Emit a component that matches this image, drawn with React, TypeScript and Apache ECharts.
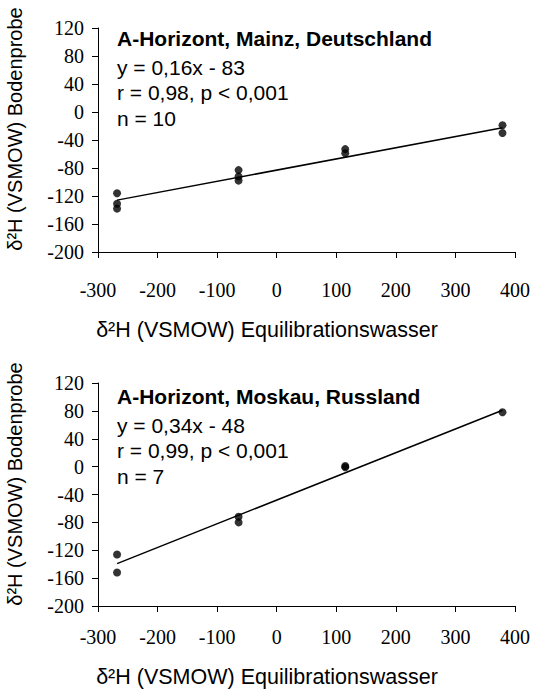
import React, { useEffect, useRef } from "react";
import * as echarts from "echarts";

// Top panel: A-Horizont, Mainz
const topX = [-268, -268, -268, -64, -64, -64, 115, 115, 379, 379];
const topY = [-116, -131, -138, -83, -92, -98, -53, -59, -19, -30];
const topFit = { slope: 0.16, intercept: -83 };
const topLabels = ["A-Horizont, Mainz, Deutschland", "y = 0,16x - 83", "r = 0,98, p < 0,001", "n = 10"];

// Bottom panel: A-Horizont, Moskau
const bottomX = [-268, -268, -64, -64, 115, 115, 379];
const bottomY = [-126, -152, -72, -80, 1, -1, 78];
const bottomFit = { slope: 0.34, intercept: -48 };
const bottomLabels = ["A-Horizont, Moskau, Russland", "y = 0,34x - 48", "r = 0,99, p < 0,001", "n = 7"];

const xRange = { min: -300, max: 400, interval: 100 };
const yRange = { min: -200, max: 120, interval: 40 };
const xTitle = "δ²H (VSMOW) Equilibrationswasser";
const yTitle = "δ²H (VSMOW) Bodenprobe";

const SERIF = "Liberation Serif";
const SANS = "Liberation Sans";

function fitLine(xs: number[], fit: { slope: number; intercept: number }) {
  const lo = Math.min(...xs);
  const hi = Math.max(...xs);
  return [
    [lo, fit.slope * lo + fit.intercept],
    [hi, fit.slope * hi + fit.intercept],
  ];
}

export default function App() {
  const ref = useRef<HTMLDivElement>(null);
  useEffect(() => {
    if (!ref.current) return;
    const chart = echarts.init(ref.current, null, { renderer: "svg" });
    const grids = [
      { left: 98, top: 28, width: 417, height: 224 },
      { left: 98, top: 383, width: 417, height: 223 },
    ];
    const mkX = (i: number, margin: number) => ({
      type: "value",
      gridIndex: i,
      min: xRange.min,
      max: xRange.max,
      interval: xRange.interval,
      axisLine: { show: true, onZero: false, lineStyle: { color: "#000", width: 1 } },
      axisTick: { show: true, length: 6, lineStyle: { color: "#000" } },
      splitLine: { show: false },
      axisLabel: { color: "#000", fontFamily: SERIF, fontSize: 20, margin },
    });
    const mkY = (i: number) => ({
      type: "value",
      gridIndex: i,
      min: yRange.min,
      max: yRange.max,
      interval: yRange.interval,
      axisLine: { show: true, onZero: false, lineStyle: { color: "#000", width: 1 } },
      axisTick: { show: true, length: 6, lineStyle: { color: "#000" } },
      splitLine: { show: false },
      axisLabel: { color: "#000", fontFamily: SERIF, fontSize: 20, margin: 14 },
    });
    const textEls: any[] = [];
    const panels = [
      { labels: topLabels, dy: 0 },
      { labels: bottomLabels, dy: 358 },
    ];
    const lineYs = [38, 67, 92, 118];
    panels.forEach((p) => {
      p.labels.forEach((t, k) => {
        textEls.push({
          type: "text",
          x: 117,
          y: lineYs[k] + p.dy,
          style: {
            text: t,
            fill: "#000",
            fontFamily: SANS,
            fontSize: 21,
            fontWeight: k === 0 ? "bold" : "normal",
            align: "left",
            verticalAlign: "middle",
          },
        });
      });
    });
    [
      { xt: 330, yt: 129 },
      { xt: 677, yt: 484 },
    ].forEach((p) => {
      textEls.push({
        type: "text",
        x: 267,
        y: p.xt,
        style: { text: xTitle, fill: "#000", fontFamily: SANS, fontSize: 21.5, align: "center", verticalAlign: "middle" },
      });
      textEls.push({
        type: "text",
        x: 15,
        y: p.yt,
        rotation: Math.PI / 2,
        style: { text: yTitle, fill: "#000", fontFamily: SANS, fontSize: 20, align: "center", verticalAlign: "middle" },
      });
    });
    const scatter = (xs: number[], ys: number[], i: number) => ({
      type: "scatter",
      xAxisIndex: i,
      yAxisIndex: i,
      symbol: "circle",
      symbolSize: 8,
      itemStyle: { color: "#000" },
      data: xs.map((x, k) => [x, ys[k]]),
      z: 3,
    });
    const line = (xs: number[], fit: any, i: number) => ({
      type: "line",
      xAxisIndex: i,
      yAxisIndex: i,
      symbol: "none",
      lineStyle: { color: "#000", width: 1.5 },
      data: fitLine(xs, fit),
      z: 2,
    });
    chart.setOption({
      animation: false,
      backgroundColor: "#fff",
      grid: grids,
      xAxis: [mkX(0, 28), mkX(1, 21)],
      yAxis: [mkY(0), mkY(1)],
      series: [
        line(topX, topFit, 0),
        scatter(topX, topY, 0),
        line(bottomX, bottomFit, 1),
        scatter(bottomX, bottomY, 1),
      ],
      graphic: textEls,
    });
    return () => chart.dispose();
  }, []);
  return <div ref={ref} style={{ position: "fixed", left: 0, top: 0, width: 533, height: 695 }} />;
}
